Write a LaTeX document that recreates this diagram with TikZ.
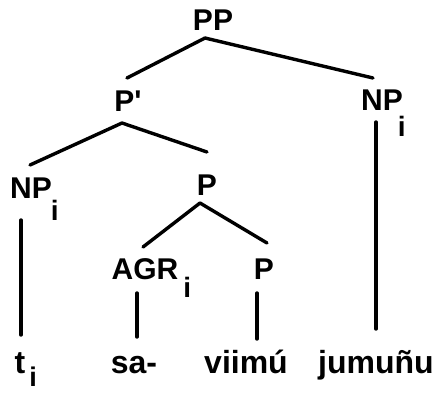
\documentclass[tikz,border=0pt]{standalone}
\usepackage{fontspec}
\newfontfamily\labfont{Liberation Sans Bold}
\newcommand\sbi[3]{\rlap{\kern#1pt\raisebox{-#2pt}{\fontsize{#3}{#3}\selectfont i}}}
\begin{document}
\begin{tikzpicture}[x=1pt,y=-1pt,
  lab/.style={inner sep=0pt,anchor=base,font=\labfont\fontsize{30}{30}\selectfont},
  word/.style={inner sep=0pt,anchor=base,font=\labfont\fontsize{32}{32}\selectfont},
  edge/.style={line width=3.4pt,line cap=round}]
\useasboundingbox (0,0) rectangle (441,392);
\node[lab] (PP) at (213,30) {PP};
\node[lab] (Pb) at (128,111) {P'};
\node[lab] (NPr) at (382,110) {NP\sbi{-5}{26}{28}};
\node[lab] (NPl) at (31,198) {NP\sbi{-1}{22}{28}};
\node[lab] (Pm) at (207,195) {P};
\node[lab] (AGR) at (145,279) {AGR\sbi{5}{18}{28}};
\node[lab] (Pl) at (264,279) {P};
\node[word] (t) at (20,373) {t\sbi{4}{13}{27}};
\node[word] (sa) at (134,373) {sa-};
\node[word] (vi) at (246,373) {viimú};
\node[word] (ju) at (376,373) {jumuñu};
% PP
\draw[edge] ([shift={(-8,8)}]PP.base) -- ([shift={(-1,-33)}]Pb.base);
\draw[edge] ([shift={(-8,8)}]PP.base) -- ([shift={(-9,-32)}]NPr.base);
% P'
\draw[edge] ([shift={(-6,12)}]Pb.base) -- ([shift={(-1,-33)}]NPl.base);
\draw[edge] ([shift={(-6,12)}]Pb.base) -- ([shift={(0,-43)}]Pm.base);
% P
\draw[edge] ([shift={(-7,8)}]Pm.base) -- ([shift={(-2,-32)}]AGR.base);
\draw[edge] ([shift={(-7,8)}]Pm.base) -- ([shift={(3,-36)}]Pl.base);
% verticals
\draw[edge] ([shift={(-10,22)}]NPl.base) -- ([shift={(1,-38)}]t.base);
\draw[edge] ([shift={(-8,14)}]AGR.base) -- ([shift={(3,-36)}]sa.base);
\draw[edge] ([shift={(-7,14)}]Pl.base) -- ([shift={(11,-34)}]vi.base);
\draw[edge] ([shift={(-6,12)}]NPr.base) -- ([shift={(0,-44)}]ju.base);
\end{tikzpicture}
\end{document}
